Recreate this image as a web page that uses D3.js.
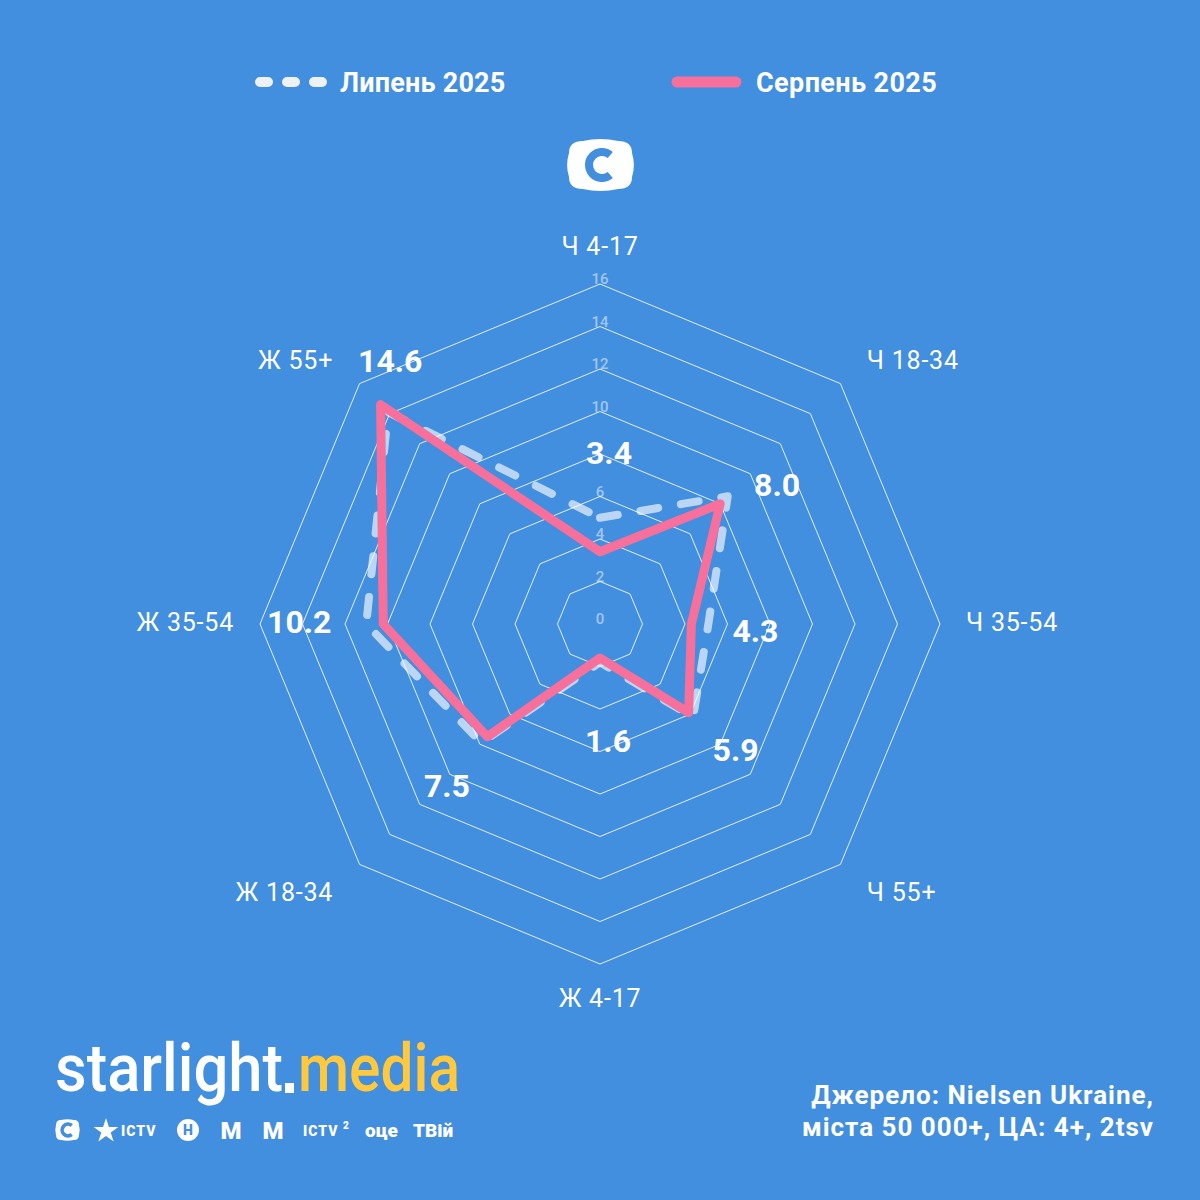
<!DOCTYPE html>
<html>
<head>
<meta charset="utf-8">
<script src="https://cdn.jsdelivr.net/npm/d3@7"></script>
<style>
  html, body { margin: 0; padding: 0; background: #428edf; }
  svg { display: block; }
  text { font-family: Roboto, "Noto Sans", sans-serif; }
</style>
</head>
<body>
<script>

// data
var categories = ["Ч 4-17", "Ч 18-34", "Ч 35-54", "Ч 55+", "Ж 4-17", "Ж 18-34", "Ж 35-54", "Ж 55+"];
var july2025   = [5.0, 8.5, 5.1, 6.2, 1.8, 7.9, 11.0, 14.1];
var august2025 = [3.4, 8.0, 4.3, 5.9, 1.6, 7.5, 10.2, 14.6];
var seriesNames = ["Липень 2025", "Серпень 2025"];
var ringTicks = [0, 2, 4, 6, 8, 10, 12, 14, 16];
var sourceLines = ["Джерело: Nielsen Ukraine,", "міста 50 000+, ЦА: 4+, 2tsv"];

var width = 1200, height = 1200;
var cx = 600, cy = 624, outerR = 340;
var bg = "#428edf", pink = "#f7709c";

var svg = d3.select("body").append("svg")
  .attr("width", width)
  .attr("height", height);

svg.append("rect").attr("width", width).attr("height", height).attr("fill", bg);

var r = d3.scaleLinear().domain([0, 16]).range([0, outerR]);
var step = 2 * Math.PI / categories.length;
function ang(i) { return i * step; }

var g = svg.append("g").attr("transform", "translate(" + cx + "," + cy + ")");

// grid rings (octagons)
var ringLine = d3.lineRadial()
  .angle(function(d, i) { return ang(i); })
  .radius(function(d) { return r(d); })
  .curve(d3.curveLinearClosed);

g.selectAll(".ring")
  .data(ringTicks.filter(function(t) { return t > 0; }))
  .enter().append("path")
  .attr("class", "ring")
  .attr("d", function(t) { return ringLine(categories.map(function() { return t; })); })
  .attr("fill", "none")
  .attr("stroke", "#ffffff")
  .attr("stroke-opacity", 0.85)
  .attr("stroke-width", 1);

// tick labels (the "8" sits under the 3.4 value label in the original, so skip it)
g.selectAll(".tick")
  .data(ringTicks.filter(function(t) { return t !== 8; }))
  .enter().append("text")
  .attr("class", "tick")
  .attr("x", 0)
  .attr("y", function(t) { return -r(t); })
  .attr("text-anchor", "middle")
  .attr("font-size", 15)
  .attr("font-weight", 500)
  .attr("fill", "rgba(255,255,255,0.5)")
  .text(function(t) { return t; });

// category labels
var labelR = outerR + 26;
g.selectAll(".cat")
  .data(categories)
  .enter().append("text")
  .attr("class", "cat")
  .attr("x", function(d, i) {
    var s = Math.sin(ang(i));
    var x = labelR * s;
    if (Math.abs(s) > 0.1 && Math.abs(s) < 0.9) x += (s > 0 ? 8 : -8);
    return x;
  })
  .attr("y", function(d, i) {
    var c = Math.cos(ang(i));
    var y = -labelR * c - 10 * c - 2;
    if (Math.abs(c) > 0.1 && Math.abs(c) < 0.9) y += 4;
    return y;
  })
  .attr("dy", "0.35em")
  .attr("text-anchor", function(d, i) {
    var s = Math.sin(ang(i));
    return s > 0.1 ? "start" : (s < -0.1 ? "end" : "middle");
  })
  .attr("font-size", 25)
  .attr("letter-spacing", 0.8)
  .attr("fill", "#ffffff")
  .text(function(d) { return d; });

// series lines
var seriesLine = d3.lineRadial()
  .angle(function(d, i) { return ang(i); })
  .radius(function(d) { return r(d); })
  .curve(d3.curveLinearClosed);

g.append("path")
  .datum(july2025)
  .attr("d", seriesLine)
  .attr("fill", "none")
  .attr("stroke", "rgba(255,255,255,0.64)")
  .attr("stroke-width", 8)
  .attr("stroke-linecap", "round")
  .attr("stroke-linejoin", "round")
  .attr("stroke-dasharray", "18 23");

g.append("path")
  .datum(august2025)
  .attr("d", seriesLine)
  .attr("fill", "none")
  .attr("stroke", pink)
  .attr("stroke-width", 9)
  .attr("stroke-linejoin", "round");

// value labels (August values), placed outside the larger of the two series
var labelNudge = [[9, -15], [14, 24], [-3, 6], [7, -3], [8, 28], [1, 7], [-17, -3], [45, -9]];
g.selectAll(".val")
  .data(august2025)
  .enter().append("text")
  .attr("class", "val")
  .attr("x", function(d, i) {
    var rr = r(Math.max(d, july2025[i])) + 50;
    return rr * Math.sin(ang(i)) + labelNudge[i][0];
  })
  .attr("y", function(d, i) {
    var rr = r(Math.max(d, july2025[i])) + 50;
    return -rr * Math.cos(ang(i)) + labelNudge[i][1];
  })
  .attr("dy", "0.36em")
  .attr("text-anchor", "middle")
  .attr("font-size", 32)
  .attr("font-weight", 700)
  .attr("fill", "#ffffff")
  .text(function(d) { return d.toFixed(1); });

// legend
var legend = svg.append("g");
legend.append("line")
  .attr("x1", 260).attr("x2", 322).attr("y1", 82).attr("y2", 82)
  .attr("stroke", "#eef1f5").attr("stroke-width", 10)
  .attr("stroke-linecap", "round")
  .attr("stroke-dasharray", "8 19");
legend.append("text")
  .attr("x", 340).attr("y", 82).attr("dy", "0.36em")
  .attr("font-size", 27).attr("font-weight", 700).attr("fill", "#fff")
  .attr("letter-spacing", 0.2)
  .text(seriesNames[0]);
legend.append("line")
  .attr("x1", 677).attr("x2", 736).attr("y1", 82).attr("y2", 82)
  .attr("stroke", pink).attr("stroke-width", 11)
  .attr("stroke-linecap", "round");
legend.append("text")
  .attr("x", 756).attr("y", 82).attr("dy", "0.36em")
  .attr("font-size", 27).attr("font-weight", 700).attr("fill", "#fff")
  .attr("letter-spacing", 0.4)
  .text(seriesNames[1]);

// channel logo
function tvShape(x, y, w, h) {
  var b = w * 0.06;
  return "M" + (x + w * 0.22) + "," + y +
    " Q" + (x + w / 2) + "," + (y - b) + " " + (x + w * 0.78) + "," + y +
    " Q" + (x + w) + "," + y + " " + (x + w) + "," + (y + h * 0.25) +
    " Q" + (x + w + b) + "," + (y + h / 2) + " " + (x + w) + "," + (y + h * 0.75) +
    " Q" + (x + w) + "," + (y + h) + " " + (x + w * 0.78) + "," + (y + h) +
    " Q" + (x + w / 2) + "," + (y + h + b) + " " + (x + w * 0.22) + "," + (y + h) +
    " Q" + x + "," + (y + h) + " " + x + "," + (y + h * 0.75) +
    " Q" + (x - b) + "," + (y + h / 2) + " " + x + "," + (y + h * 0.25) +
    " Q" + x + "," + y + " " + (x + w * 0.22) + "," + y + "Z";
}
function cArc(scale) {
  return d3.arc()
    .innerRadius(9 * scale).outerRadius(17 * scale)
    .startAngle(Math.PI * 0.78).endAngle(Math.PI * 2.22)();
}
var logo = svg.append("g");
logo.append("path").attr("d", tvShape(569, 141, 63, 48)).attr("fill", "#fff");
logo.append("path").attr("d", cArc(1)).attr("transform", "translate(602,165)")
  .attr("fill", bg);

// starlight.media wordmark
var word = svg.append("g");
word.append("text")
  .attr("x", 55).attr("y", 1091)
  .attr("font-size", 66).attr("font-weight", 500)
  .attr("textLength", 228).attr("lengthAdjust", "spacingAndGlyphs")
  .attr("fill", "#fff")
  .text("starlight");
word.append("rect")
  .attr("x", 285).attr("y", 1083).attr("width", 9).attr("height", 10)
  .attr("fill", "#fff");
word.append("text")
  .attr("x", 298).attr("y", 1091)
  .attr("font-size", 66).attr("font-weight", 500)
  .attr("textLength", 162).attr("lengthAdjust", "spacingAndGlyphs")
  .attr("fill", "#ffc83d")
  .text("media");

// channel icons row
var icons = svg.append("g").attr("fill", "#fff");
icons.append("path").attr("d", tvShape(56, 1120, 23, 20)).attr("fill", "#fff");
icons.append("path").attr("d", cArc(0.45)).attr("transform", "translate(68,1130)").attr("fill", bg);
icons.append("path")
  .attr("d", d3.symbol().type(d3.symbolStar).size(190)())
  .attr("transform", "translate(106,1131)");
icons.append("text").attr("x", 121).attr("y", 1136).attr("font-size", 14).attr("font-weight", 900)
  .attr("letter-spacing", 1).text("ICTV");
icons.append("circle").attr("cx", 188).attr("cy", 1130).attr("r", 11);
icons.append("text").attr("x", 188).attr("y", 1135).attr("text-anchor", "middle")
  .attr("font-size", 14).attr("font-weight", 900).attr("fill", bg).text("H");
icons.append("text").attr("x", 231).attr("y", 1139).attr("text-anchor", "middle")
  .attr("font-size", 24).attr("font-weight", 900).text("M");
icons.append("text").attr("x", 273).attr("y", 1139).attr("text-anchor", "middle")
  .attr("font-size", 24).attr("font-weight", 900).text("M");
icons.append("text").attr("x", 303).attr("y", 1136).attr("font-size", 14).attr("font-weight", 900)
  .attr("letter-spacing", 1).text("ICTV");
icons.append("text").attr("x", 343).attr("y", 1129).attr("font-size", 10).attr("font-weight", 900).text("2");
icons.append("text").attr("x", 365).attr("y", 1137).attr("font-size", 19).attr("font-weight", 900)
  .text("оце");
icons.append("text").attr("x", 413).attr("y", 1137).attr("font-size", 19).attr("font-weight", 900)
  .text("ТВій");

// source
svg.selectAll(".src")
  .data(sourceLines)
  .enter().append("text")
  .attr("class", "src")
  .attr("x", 1154)
  .attr("y", function(d, i) { return 1104 + i * 32; })
  .attr("text-anchor", "end")
  .attr("font-size", 26)
  .attr("letter-spacing", 1.0)
  .attr("font-weight", 700)
  .attr("fill", "#fff")
  .text(function(d) { return d; });

</script>
</body>
</html>
